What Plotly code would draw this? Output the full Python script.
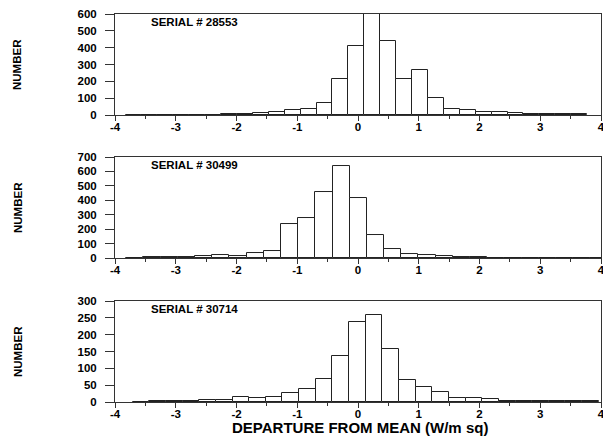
import plotly.graph_objects as go

# --- Histogram data: bin centres and counts for the three instruments ---
serials = ["SERIAL # 28553", "SERIAL # 30499", "SERIAL # 30714"]

bin_width_a = 0.262
centers_a = [-3.695, -3.433, -3.171, -2.909, -2.647, -2.385, -2.123, -1.861,
             -1.599, -1.337, -1.075, -0.813, -0.551, -0.289, -0.027, 0.235,
             0.497, 0.759, 1.021, 1.283, 1.545, 1.807, 2.069, 2.331, 2.593,
             2.855, 3.117, 3.379, 3.641]
counts_a = [2, 2, 1, 2, 1, 2, 3, 8, 10, 20, 27, 38, 70, 215, 410, 640,
            440, 213, 268, 100, 38, 32, 18, 15, 10, 6, 4, 3, 3]

bin_width_b = 0.283
centers_b = [-3.674, -3.391, -3.108, -2.825, -2.542, -2.259, -1.976, -1.693,
             -1.410, -1.127, -0.844, -0.561, -0.278, 0.005, 0.288, 0.571,
             0.854, 1.137, 1.420, 1.703, 1.986, 2.269, 2.552, 2.835, 3.118,
             3.401, 3.684, 3.967]
counts_b = [1, 7, 7, 9, 16, 21, 14, 38, 48, 236, 276, 460, 640, 417, 156,
            59, 28, 22, 12, 10, 4, 3, 3, 2, 2, 2, 2, 1]

bin_width_c = 0.274
centers_c = [-3.572, -3.298, -3.024, -2.750, -2.476, -2.202, -1.928, -1.654,
             -1.380, -1.106, -0.832, -0.558, -0.284, -0.010, 0.264, 0.538,
             0.812, 1.086, 1.360, 1.634, 1.908, 2.182, 2.456, 2.730, 3.004,
             3.278, 3.552, 3.826]
counts_c = [1, 3, 2, 4, 5, 6, 14, 12, 16, 26, 40, 69, 137, 237, 258, 157,
            66, 46, 29, 11, 11, 9, 4, 4, 3, 3, 2, 3]

y_ranges = [[0, 600], [0, 700], [0, 300]]
y_dticks = [100, 100, 50]
x_ticks = [-4, -3, -2, -1, 0, 1, 2, 3, 4]
x_title = "DEPARTURE FROM MEAN (W/m sq)"

panels = [
    (centers_a, counts_a, bin_width_a),
    (centers_b, counts_b, bin_width_b),
    (centers_c, counts_c, bin_width_c),
]

# vertical placement of the three stacked panels (paper fractions)
domains = [[0.7397, 1.0], [0.3711, 0.6314], [0.0, 0.2603]]

FONT = "Liberation Sans, Arial, Helvetica, sans-serif"
tick_font = dict(family=FONT, size=11.5, color="black", weight="bold")
line_col = "#333333"

fig = go.Figure()
layout = dict(
    width=603, height=440,
    margin=dict(l=115, r=2, t=14, b=38, autoexpand=False),
    paper_bgcolor="white", plot_bgcolor="white",
    showlegend=False, bargap=0,
    annotations=[],
)

for i, (cx, cy, w) in enumerate(panels):
    n = "" if i == 0 else str(i + 1)
    fig.add_trace(go.Bar(
        x=cx, y=cy, width=w,
        xaxis="x" + n, yaxis="y" + n,
        marker=dict(color="white", line=dict(color="#222222", width=1)),
    ))
    layout["xaxis" + n] = dict(
        domain=[0, 1], anchor="y" + n, range=[-4, 4],
        tickvals=x_ticks, ticktext=[str(v) for v in x_ticks],
        ticks="outside", ticklen=5, tickwidth=1, tickcolor=line_col,
        minor=dict(dtick=0.5, tick0=0, ticks="outside", ticklen=3,
                   tickcolor=line_col),
        ticklabelstandoff=-4,
        showline=True, linecolor=line_col, linewidth=1, mirror=True,
        showgrid=False, zeroline=False, tickfont=tick_font,
        ticklabeloverflow="allow", automargin=False,
    )
    layout["yaxis" + n] = dict(
        domain=domains[i], anchor="x" + n, range=y_ranges[i],
        dtick=y_dticks[i], tick0=0,
        ticks="outside", ticklen=9, tickwidth=1, tickcolor=line_col,
        ticklabelstandoff=6,
        showline=True, linecolor=line_col, linewidth=1, mirror=True,
        showgrid=False, zeroline=False, tickfont=tick_font,
        automargin=False,
    )
    layout["annotations"].append(dict(
        text=serials[i], xref=("x" + n) + " domain", yref=("y" + n) + " domain",
        x=0.07, y=1.0, xanchor="left", yanchor="top", showarrow=False,
        font=dict(family=FONT, size=11.5, color="black", weight="bold"),
    ))
    layout["annotations"].append(dict(
        text="NUMBER", xref="paper", yref=("y" + n) + " domain",
        x=(17.5 - 115) / 486, y=0.5, xanchor="center", yanchor="middle",
        textangle=-90, showarrow=False,
        font=dict(family=FONT, size=11.5, color="black", weight="bold"),
    ))

# shared x-axis title under the bottom panel
layout["annotations"].append(dict(
    text=x_title, xref="paper", yref="paper",
    x=(360 - 115) / 486, y=(402 - 427) / 388,
    xanchor="center", yanchor="middle", showarrow=False,
    font=dict(family=FONT, size=15, color="black", weight="bold"),
))

fig.update_layout(**layout)
fig.write_html("out.html")
